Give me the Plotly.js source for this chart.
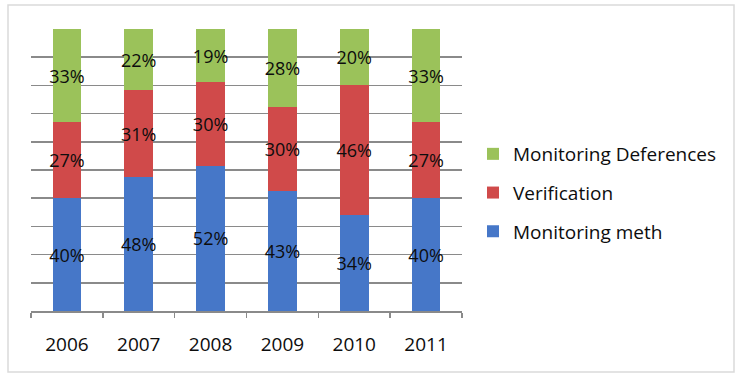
<!DOCTYPE html>
<html>
<head>
<meta charset="utf-8">
<script src="https://cdn.plot.ly/plotly-3.0.1.min.js"></script>
<style>
  html, body { margin: 0; padding: 0; background: #ffffff; }
  #chart { width: 737px; height: 378px; }
</style>
</head>
<body>
<div id="chart"></div>
<script>
// Share of each activity per year (columns are normalised to 100%)
const years = ['2006', '2007', '2008', '2009', '2010', '2011'];
const monitoringMeth = [40, 48, 52, 43, 34, 40];
const verification = [27, 31, 30, 30, 46, 27];
const monitoringDeferences = [33, 22, 19, 28, 20, 33];

const seriesNames = ['Monitoring meth', 'Verification', 'Monitoring Deferences'];
const seriesColors = ['#4677c8', '#d04a4a', '#9bc25a'];
const seriesValues = [monitoringMeth, verification, monitoringDeferences];

const FONT = '"Open Sans", "Noto Sans", "Liberation Sans", sans-serif';

// Stack from the bottom up; the legend lists the top series first
const traces = seriesValues.map((vals, i) => ({
  type: 'bar',
  name: seriesNames[i],
  legendgroup: 'g' + i,
  legendrank: 1000 - i,
  x: years,
  y: vals,
  text: vals.map(v => v + '%'),
  textposition: 'inside',
  insidetextanchor: 'middle',
  textangle: 0,
  constraintext: 'none',
  textfont: { family: FONT, size: 18, color: '#0d0d0d' },
  marker: { color: seriesColors[i], line: { width: 0 } },
  hoverinfo: 'skip'
}));

const plotLeft = 31, plotRight = 462, plotTop = 29, plotBottom = 311;
const pw = plotRight - plotLeft, ph = plotBottom - plotTop;
const px = v => (v - plotLeft) / pw;
const py = v => (plotBottom - v) / ph;

const layout = {
  width: 737,
  height: 378,
  margin: { l: plotLeft, r: 737 - plotRight, t: plotTop, b: 378 - plotBottom, pad: 0 },
  paper_bgcolor: '#ffffff',
  plot_bgcolor: '#ffffff',
  barmode: 'stack',
  barnorm: 'percent',
  bargap: 0.6,
  showlegend: true,
  legend: {
    x: px(473),
    xanchor: 'left',
    y: py(135),
    yanchor: 'top',
    traceorder: 'grouped',
    tracegroupgap: 11,
    font: { family: FONT, size: 19, color: '#0d0d0d' },
    bgcolor: 'rgba(0,0,0,0)'
  },
  xaxis: {
    type: 'category',
    showline: true,
    linecolor: '#8a8a8a',
    linewidth: 1.5,
    ticks: 'outside',
    tickson: 'boundaries',
    ticklen: 5,
    tickcolor: '#8a8a8a',
    tickwidth: 1.5,
    ticklabelstandoff: 16,
    tickfont: { family: FONT, size: 19, color: '#0d0d0d' },
    showgrid: false,
    zeroline: false,
    fixedrange: true
  },
  yaxis: {
    range: [0, 100],
    dtick: 10,
    showticklabels: false,
    ticks: '',
    showgrid: true,
    gridcolor: '#8a8a8a',
    gridwidth: 1.5,
    zeroline: false,
    showline: false,
    fixedrange: true
  },
  shapes: [{
    type: 'rect',
    xref: 'paper', yref: 'paper',
    x0: px(8), x1: px(734), y0: py(372), y1: py(5),
    line: { color: '#dadada', width: 1.5 },
    fillcolor: 'rgba(0,0,0,0)',
    layer: 'below'
  }]
};

Plotly.newPlot('chart', traces, layout, { displayModeBar: false, staticPlot: true });
</script>
</body>
</html>
